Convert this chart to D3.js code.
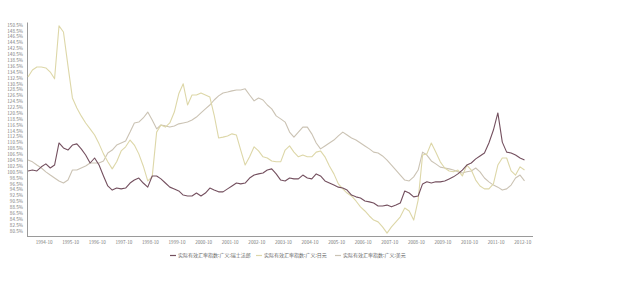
<!DOCTYPE html>
<html><head><meta charset="utf-8">
<script src="https://cdn.jsdelivr.net/npm/d3@7/dist/d3.min.js"></script>
<style>
html,body{margin:0;padding:0;background:#fff;}
svg{display:block;}
text{font-family:"Noto Sans CJK SC","DejaVu Sans",sans-serif;}
</style></head>
<body><svg id="c" width="618" height="282"></svg>
<script>
// ---- data (bimonthly observations, 1994-03 .. 2012-11) ----
const startMonth = "1994-03";
const seriesNames = ["实际有效汇率指数:广义:瑞士法郎","实际有效汇率指数:广义:日元","实际有效汇率指数:广义:美元"];
const chf = [100.8,101.1,100.8,102.2,103.2,101.8,102.8,110.3,108.6,107.9,
 109.6,110.0,108.3,106.2,103.5,105.2,102.8,99.1,95.7,94.3,
 95.0,94.7,95.0,96.7,97.7,98.4,96.7,95.3,99.1,99.1,
 98.1,96.7,95.3,94.7,94.0,92.6,92.3,92.3,93.3,92.3,
 93.3,95.0,94.3,93.7,93.7,94.7,95.7,96.7,96.4,96.7,
 98.4,99.4,99.8,100.1,101.1,101.5,99.8,97.7,97.4,98.4,
 98.1,98.1,99.4,98.4,98.1,99.8,99.1,97.4,96.7,96.0,
 95.3,95.0,94.3,92.6,92.0,91.6,90.6,90.3,89.9,88.9,
 88.9,89.2,88.6,89.2,89.9,94.0,93.3,92.0,92.3,96.4,
 97.1,96.7,97.1,97.1,97.4,98.1,98.8,99.8,101.1,102.8,
 103.5,104.9,105.9,106.9,110.3,114.7,120.5,110.6,107.2,106.9,
 106.2,105.2,104.5];
const jpy = [132.7,135.1,136.1,136.1,135.8,134.4,132.1,150.1,148.0,136.5,
 125.6,122.2,119.5,117.1,115.1,113.0,110.0,106.6,103.9,101.5,
 103.9,107.6,109.0,111.3,109.6,106.6,102.5,97.4,98.8,114.0,
 116.4,115.7,117.1,120.8,127.0,130.4,123.2,126.6,126.6,127.3,
 126.6,125.9,119.8,112.0,112.3,112.7,113.4,113.0,107.9,102.8,
 105.6,109.0,107.6,105.6,105.2,104.2,103.9,103.9,107.9,109.3,
 107.2,105.6,106.2,105.6,105.6,107.2,107.6,105.6,102.5,99.8,
 96.4,94.7,93.3,92.3,90.6,88.6,87.2,85.5,84.1,83.5,
 81.8,79.7,81.8,83.5,85.2,88.2,87.2,84.1,90.9,106.2,
 106.6,110.3,107.2,103.9,101.8,100.8,100.5,101.1,99.1,102.8,
 101.1,97.7,95.7,94.7,94.7,96.4,102.8,105.2,105.2,100.8,
 99.4,102.2,101.1];
const usd = [104.5,103.9,102.8,101.8,100.5,99.4,98.4,97.4,96.7,97.7,
 101.1,101.1,101.8,102.5,103.5,103.5,103.5,104.2,106.9,107.9,
 109.6,110.3,111.0,114.0,117.1,117.4,118.8,120.8,118.1,115.1,
 116.4,116.1,115.7,116.1,116.8,117.1,117.4,118.1,119.1,120.5,
 121.9,123.2,124.9,126.3,127.3,127.6,128.0,128.3,128.3,128.7,
 126.6,124.6,125.6,124.9,123.2,121.9,119.5,118.5,117.4,114.0,
 112.3,114.0,115.7,115.7,113.4,110.3,108.3,109.3,110.3,111.3,
 112.7,114.0,113.0,112.0,111.3,110.3,109.3,108.3,107.2,106.9,
 105.9,104.5,102.8,101.1,99.4,97.7,97.4,98.8,101.1,107.2,
 106.2,104.2,103.2,102.1,101.8,101.5,101.1,100.5,100.1,100.5,
 100.8,101.8,100.5,98.4,97.1,96.0,95.3,94.3,94.7,96.0,
 98.4,99.4,97.4];
const xTickLabels = ["1994-10","1995-10","1996-10","1997-10","1998-10","1999-10","2000-10","2001-10","2002-10","2003-10","2004-10","2005-10","2006-10","2007-10","2008-10","2009-10","2010-10","2011-10","2012-10"];
const yTickLabels = [150.5,148.5,146.5,144.5,142.5,140.5,138.5,136.5,134.5,132.5,130.5,128.5,126.5,124.5,122.5,120.5,118.5,116.5,114.5,112.5,110.5,108.5,106.5,104.5,102.5,100.5,98.5,96.5,94.5,92.5,90.5,88.5,86.5,84.5,82.5,80.5];
const colors = ["#74505f","#ddd7a8","#cbc3b4"];

// ---- build ----
const parse = d3.timeParse("%Y-%m");
const t0 = parse(startMonth);
const dates = chf.map((_, i) => d3.timeMonth.offset(t0, 2 * i));
const svg = d3.select("#c");
svg.append("rect").attr("width",618).attr("height",282).attr("fill","#fff");

const x = d3.scaleTime().domain([t0, dates[dates.length-1]]).range([28, 524.5]);
const y = d3.scaleLinear().domain([78.7, 151.4]).range([236, 22]);

// y axis
const ya = svg.append("g").attr("transform","translate(27,0)")
  .call(d3.axisLeft(y).tickValues(yTickLabels).tickSize(0).tickPadding(4)
    .tickFormat(d => d.toFixed(1) + "%"));
ya.select(".domain").attr("stroke","#9a9a9a").attr("stroke-width",1);
ya.selectAll("text").attr("font-size","4.6px").attr("fill","#7a7a7a");

// x axis
const xa = svg.append("g").attr("transform","translate(0,236)")
  .call(d3.axisBottom(x).tickValues(xTickLabels.map(parse)).tickSize(0).tickPadding(5)
    .tickFormat(d3.timeFormat("%Y-%m")));
xa.select(".domain").attr("d","M27,0.5H533").attr("stroke","#9a9a9a").attr("stroke-width",1);
xa.selectAll("text").attr("font-size","4.6px").attr("fill","#7a7a7a");

// lines
const line = d3.line().x((d,i) => x(dates[i])).y(d => y(d));
const all = [chf, jpy, usd];
[2,1,0].forEach(si => {
  svg.append("path").datum(all[si]).attr("d", line)
    .attr("fill","none").attr("stroke",colors[si]).attr("stroke-width",1.1)
    .attr("stroke-linejoin","round");
});

// legend
const legX = [170, 256, 335];
const lg = svg.append("g");
seriesNames.forEach((n, i) => {
  lg.append("line").attr("x1",legX[i]).attr("x2",legX[i]+6).attr("y1",255.5).attr("y2",255.5)
    .attr("stroke",colors[i]).attr("stroke-width",1.2);
  lg.append("text").attr("x",legX[i]+8).attr("y",257.3).attr("font-size","5px")
    .attr("fill","#666").text(n);
});
</script></body></html>
